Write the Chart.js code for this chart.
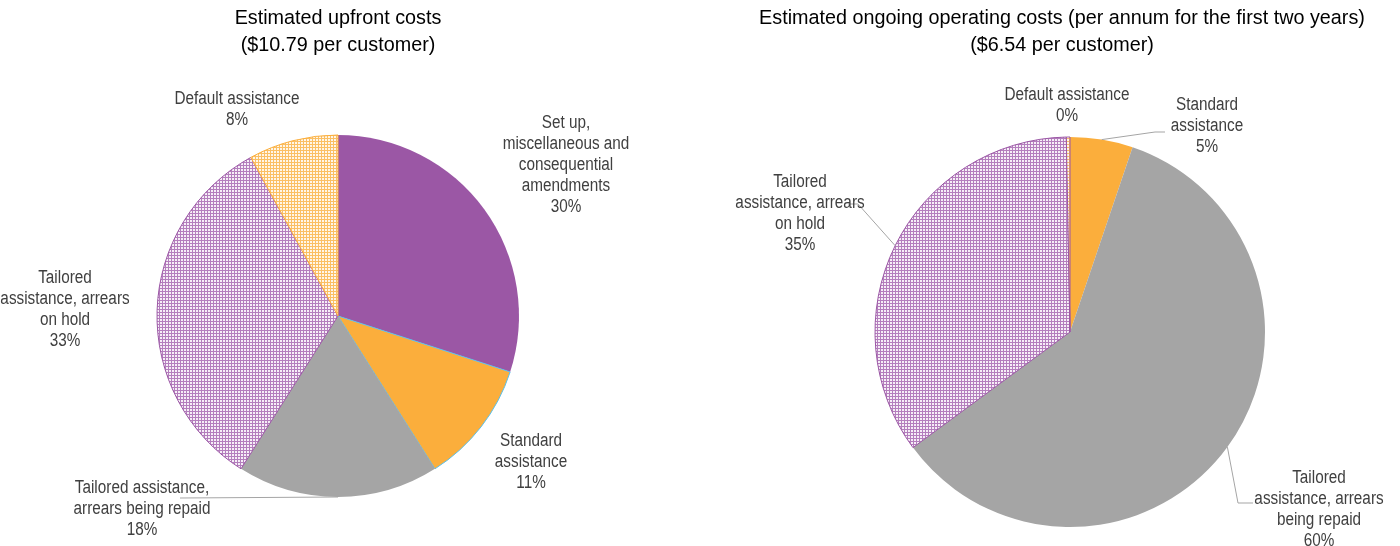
<!DOCTYPE html>
<html>
<head>
<meta charset="utf-8">
<script src="https://cdn.jsdelivr.net/npm/chart.js@4.4.1/dist/chart.umd.min.js"></script>
<style>
html,body{margin:0;padding:0;background:#ffffff;}
#wrap{position:relative;width:1400px;height:546px;overflow:hidden;background:#fff;}
canvas{position:absolute;top:0;}
</style>
</head>
<body>
<div id="wrap">
  <canvas id="c1" width="690" height="546" style="left:0px"></canvas>
  <canvas id="c2" width="700" height="546" style="left:700px"></canvas>
</div>
<script>
// ---- Data ----
const categories = [
  "Set up, miscellaneous and consequential amendments",
  "Standard assistance",
  "Tailored assistance, arrears being repaid",
  "Tailored assistance, arrears on hold",
  "Default assistance"
];
const upfrontValues = [30, 11, 18, 33, 8];
const ongoingValues = [0, 5.2, 59.7, 34.8, 0.3];

const upfrontTitle = ["Estimated upfront costs", "($10.79 per customer)"];
const ongoingTitle = ["Estimated ongoing operating costs (per annum for the first two years)", "($6.54 per customer)"];

const upfrontLabelLines = [
  ["Set up,", "miscellaneous and", "consequential", "amendments"],
  ["Standard", "assistance"],
  ["Tailored assistance,", "arrears being repaid"],
  ["Tailored", "assistance, arrears", "on hold"],
  ["Default assistance"]
];
const ongoingLabelLines = [
  null,
  ["Standard", "assistance"],
  ["Tailored", "assistance, arrears", "being repaid"],
  ["Tailored", "assistance, arrears", "on hold"],
  ["Default assistance"]
];

// ---- Styling helpers ----
function makePattern(dark, light) {
  // 3x3 tile: coloured grid lines with light 2x2 "dots"
  const c = document.createElement('canvas');
  c.width = 3; c.height = 3;
  const g = c.getContext('2d');
  g.fillStyle = dark; g.fillRect(0, 0, 3, 3);
  g.fillStyle = light; g.fillRect(1, 1, 2, 2);
  return g.createPattern(c, 'repeat');
}
const PURPLE = '#9B57A5';
const ORANGE = '#FBAE3C';
const GREY = '#A5A5A5';
const purplePattern = makePattern('#B47EBD', '#F6EEF7');
const orangePattern = makePattern('#FBBF63', '#FFF6E8');
const fills = [PURPLE, ORANGE, GREY, purplePattern, orangePattern];

const LABEL_FONT = '18px "Liberation Sans", Arial, sans-serif';
const LABEL_SCALE = 0.85;
const TITLE_FONT = '20.5px "Liberation Sans", Arial, sans-serif';
const TITLE_SCALE = 0.965;

function drawScaledText(ctx, t, x, y, sx) {
  ctx.save();
  ctx.translate(x, y);
  ctx.scale(sx, 1);
  ctx.fillText(t, 0, 0);
  ctx.restore();
}

const pieLabels = {
  id: 'pieLabels',
  afterDatasetsDraw(chart, args, opts) {
    const ctx = chart.ctx;
    const meta = chart.getDatasetMeta(0);
    const data = chart.data.datasets[0].data;
    const total = data.reduce((a, b) => a + b, 0);
    ctx.save();
    ctx.textAlign = 'center';
    ctx.textBaseline = 'middle';
    // title
    ctx.fillStyle = '#000000';
    ctx.font = TITLE_FONT;
    const first = meta.data[0];
    opts.title.forEach((t, i) => drawScaledText(ctx, t, first.x + opts.titleDx, opts.titleY + i * 27, TITLE_SCALE));
    meta.data.forEach((arc, i) => {
      const pos = opts.positions[i];
      const lines = opts.lines[i];
      if (!pos || !lines || data[i] === 0) return;
      const p = arc.getProps(['x', 'y', 'startAngle', 'endAngle', 'outerRadius'], true);
      const mid = (p.startAngle + p.endAngle) / 2;
      if (pos.leader) {
        ctx.strokeStyle = '#A5A5A5';
        ctx.lineWidth = 1;
        ctx.beginPath();
        ctx.moveTo(p.x + Math.cos(mid) * p.outerRadius, p.y + Math.sin(mid) * p.outerRadius);
        pos.leader.forEach(q => ctx.lineTo(p.x + q[0], p.y + q[1]));
        ctx.stroke();
      }
      const all = lines.concat([Math.round(data[i] / total * 100) + '%']);
      ctx.font = LABEL_FONT;
      ctx.fillStyle = '#404040';
      const n = all.length;
      all.forEach((t, k) => drawScaledText(ctx, t, p.x + pos.dx, p.y + pos.dy + (k - (n - 1) / 2) * opts.lineHeight, LABEL_SCALE));
    });
    ctx.restore();
  }
};

function makeChart(id, values, cfg) {
  return new Chart(document.getElementById(id), {
    type: 'pie',
    data: {
      labels: categories,
      datasets: [{
        data: values,
        backgroundColor: fills,
        borderColor: cfg.borderColors,
        borderWidth: cfg.borderWidths,
        radius: cfg.radius
      }]
    },
    options: {
      responsive: false,
      animation: false,
      events: [],
      radius: cfg.radius,
      layout: { padding: cfg.padding },
      plugins: {
        legend: { display: false },
        tooltip: { enabled: false },
        title: { display: false },
        pieLabels: {
          title: cfg.title,
          titleDx: cfg.titleDx,
          titleY: 18,
          lines: cfg.lines,
          positions: cfg.positions,
          lineHeight: 21
        }
      }
    },
    plugins: [pieLabels]
  });
}

makeChart('c1', upfrontValues, {
  radius: 181,
  padding: { left: 0, right: 14, top: 86, bottom: 0 },
  borderColors: [PURPLE, '#5BC0EB', GREY, PURPLE, ORANGE],
  borderWidths: [0, 1, 0, 1, 1],
  title: upfrontTitle,
  titleDx: 0,
  lines: upfrontLabelLines,
  positions: [
    { dx: 228, dy: -151 },
    { dx: 193, dy: 146 },
    { dx: -196, dy: 193, leader: [[-158, 182]] },
    { dx: -273, dy: -6 },
    { dx: -101, dy: -206 }
  ]
});

makeChart('c2', ongoingValues, {
  radius: 195,
  padding: { left: 40, right: 0, top: 118, bottom: 0 },
  borderColors: [PURPLE, ORANGE, GREY, PURPLE, PURPLE],
  borderWidths: [0, 0, 0, 1, 1],
  title: ongoingTitle,
  titleDx: -8,
  lines: ongoingLabelLines,
  positions: [
    null,
    { dx: 137, dy: -206, leader: [[85, -200], [95, -200]] },
    { dx: 249, dy: 177.5, leader: [[168, 171], [183, 171]] },
    { dx: -270, dy: -118, leader: [[-212, -128], [-222, -128]] },
    { dx: -3, dy: -226.5 }
  ]
});
</script>
</body>
</html>
